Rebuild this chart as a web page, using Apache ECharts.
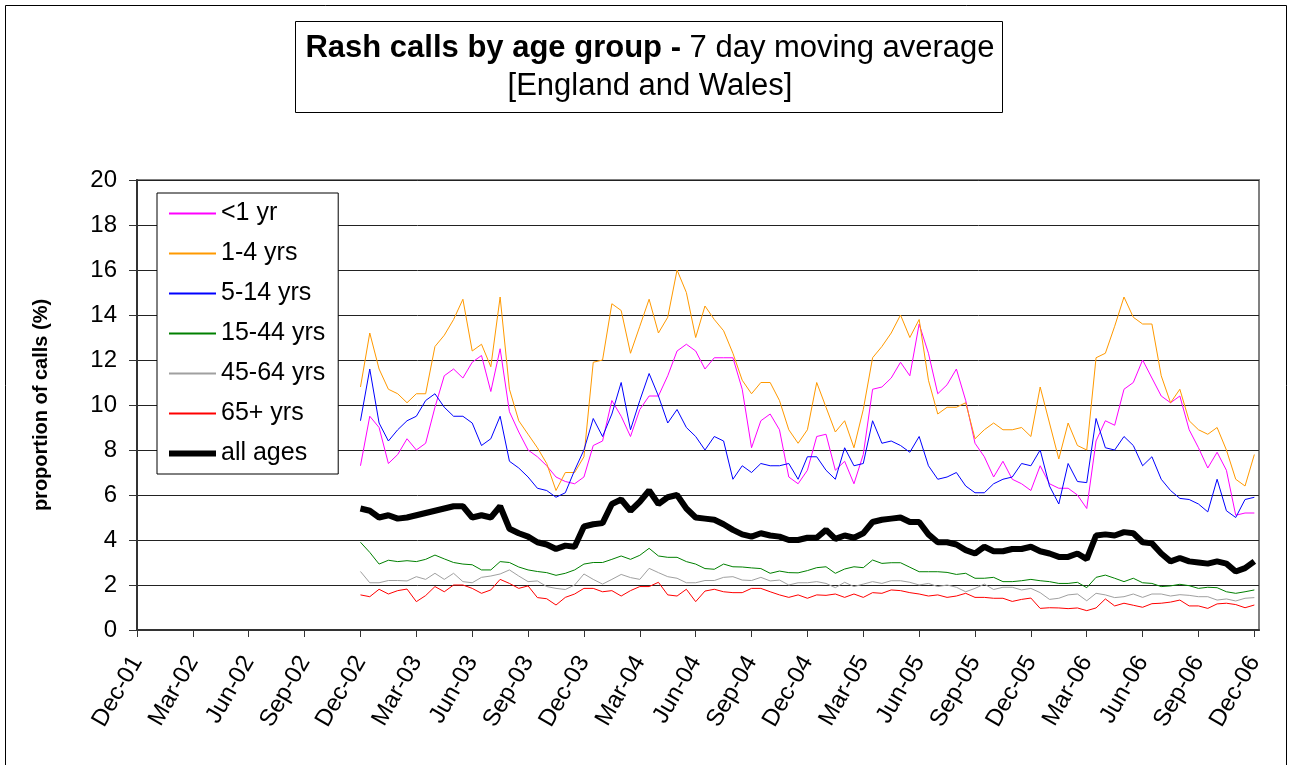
<!DOCTYPE html>
<html>
<head>
<meta charset="UTF-8">
<title>Rash calls by age group</title>
<script src="https://cdn.jsdelivr.net/npm/echarts@6/dist/echarts.min.js"></script>
<style>
    html, body { margin: 0; padding: 0; background: #fff; }
    #main { width: 1291px; height: 765px; }
</style>
</head>
<body>
<div id="main"></div>
<script>
    // x in months after Dec-01; one reading every half month from Dec-02 to Dec-06
    var xStart = 12, xStep = 0.5;
    var xTickLabels = ['Dec-01', 'Mar-02', 'Jun-02', 'Sep-02', 'Dec-02', 'Mar-03', 'Jun-03', 'Sep-03', 'Dec-03',
        'Mar-04', 'Jun-04', 'Sep-04', 'Dec-04', 'Mar-05', 'Jun-05', 'Sep-05', 'Dec-05', 'Mar-06', 'Jun-06',
        'Sep-06', 'Dec-06'];
    var yTicks = [0, 2, 4, 6, 8, 10, 12, 14, 16, 18, 20];

    // 7 day moving average, % of calls
    var under1 = [7.3, 9.5, 9.0, 7.4, 7.8, 8.5, 8.0, 8.3, 9.9, 11.3, 11.6, 11.2, 11.9, 12.2, 10.6, 12.5, 9.7, 8.8, 8.0, 7.7,
        7.3, 6.8, 6.6, 6.5, 6.8, 8.2,
        8.4, 10.2, 9.5, 8.6, 9.8, 10.4, 10.4, 11.3, 12.4, 12.7, 12.4, 11.6, 12.1, 12.1, 12.1, 10.7, 8.1, 9.3, 9.6, 8.9,
        6.8, 6.5, 7.1, 8.6, 8.7, 7.1,
        7.5, 6.5, 7.8, 10.7, 10.8, 11.2, 11.9, 11.3, 13.6, 12.3, 10.5, 10.9, 11.6, 10.2, 8.3, 7.7, 6.8, 7.5, 6.7, 6.5,
        6.2, 7.3, 6.5, 6.3, 6.3, 6.0,
        5.4, 8.4, 9.3, 9.1, 10.7, 11.0, 12.0, 11.2, 10.4, 10.1, 10.4, 8.9, 8.1, 7.2, 7.9, 7.1, 5.1, 5.2, 5.2];
    var age1to4 = [10.8, 13.2, 11.6, 10.7, 10.5, 10.1, 10.5, 10.5, 12.6, 13.1, 13.8, 14.7, 12.4, 12.7, 11.7, 14.8, 10.7, 9.3,
        8.7, 8.1, 7.4, 6.2, 7.0, 7.0, 7.7, 11.9,
        12.0, 14.5, 14.2, 12.3, 13.5, 14.7, 13.2, 13.9, 16.0, 15.0, 13.0, 14.4, 13.8, 13.3, 12.3, 11.1, 10.5, 11.0, 11.0,
        10.2, 8.9, 8.3, 8.9, 11.0, 9.9, 8.8,
        9.3, 8.1, 9.8, 12.1, 12.6, 13.2, 14.0, 13.0, 13.8, 11.1, 9.6, 9.9, 9.9, 10.1, 8.5, 8.9, 9.2, 8.9, 8.9, 9.0,
        8.6, 10.8, 9.2, 7.6, 9.2, 8.2,
        8.0, 12.1, 12.3, 13.5, 14.8, 13.9, 13.6, 13.6, 11.3, 10.1, 10.7, 9.3, 8.9, 8.7, 9.0, 8.0, 6.7, 6.4, 7.8];
    var age5to14 = [9.3, 11.6, 9.2, 8.4, 8.9, 9.3, 9.5, 10.2, 10.5, 9.9, 9.5, 9.5, 9.2, 8.2, 8.5, 9.5, 7.5, 7.2, 6.8, 6.3,
        6.2, 5.9, 6.1, 7.1, 8.0, 9.4,
        8.6, 9.6, 11.0, 8.9, 10.2, 11.4, 10.4, 9.2, 9.8, 9.0, 8.6, 8.0, 8.6, 8.4, 6.7, 7.3, 7.0, 7.4, 7.3, 7.3,
        7.4, 6.7, 7.7, 7.7, 7.1, 6.7,
        8.1, 7.3, 7.4, 9.3, 8.3, 8.4, 8.2, 7.9, 8.6, 7.3, 6.7, 6.8, 7.0, 6.4, 6.1, 6.1, 6.5, 6.7, 6.8, 7.4,
        7.3, 8.0, 6.4, 5.6, 7.4, 6.6,
        6.55, 9.4, 8.1, 8.0, 8.6, 8.2, 7.3, 7.7, 6.7, 6.2, 5.85, 5.8, 5.6, 5.25, 6.7, 5.3, 5.0, 5.8, 5.9];
    var age15to44 = [3.9, 3.45, 2.93, 3.1, 3.04, 3.08, 3.04, 3.14, 3.33, 3.16, 3.0, 2.93, 2.9, 2.67, 2.67, 3.04, 3.0, 2.8,
        2.67, 2.6, 2.55, 2.43, 2.52, 2.67, 2.93, 3.0, 3.0, 3.14, 3.29, 3.14, 3.32, 3.63, 3.29, 3.23, 3.23, 3.04, 2.93,
        2.73, 2.7, 2.93, 2.81, 2.8, 2.76, 2.73, 2.52, 2.62, 2.55, 2.54,
        2.64, 2.77, 2.81, 2.52, 2.71, 2.81, 2.77, 3.11, 2.96, 2.99, 2.99, 2.79, 2.59, 2.59, 2.59, 2.56, 2.47, 2.52,
        2.3, 2.3, 2.34, 2.15, 2.15, 2.19, 2.25, 2.19, 2.15, 2.07, 2.07, 2.12, 1.88, 2.34, 2.44, 2.3, 2.15, 2.3, 2.1,
        2.07, 1.93, 1.96, 2.03, 1.97, 1.85, 1.9, 1.88, 1.7, 1.63, 1.7, 1.78];
    var age45to64 = [2.6, 2.1, 2.1, 2.2, 2.2, 2.18, 2.37, 2.25, 2.52, 2.25, 2.52, 2.15, 2.1, 2.34, 2.4, 2.49, 2.67, 2.4,
        2.15, 2.18, 1.93, 1.85, 1.8, 2.0, 2.49, 2.25, 2.04, 2.25, 2.47, 2.33, 2.25, 2.74, 2.55, 2.37, 2.3, 2.1, 2.1,
        2.2, 2.2, 2.34, 2.37, 2.22, 2.2, 2.34, 2.18, 2.22, 2.0, 2.1,
        2.1, 2.15, 2.07, 1.88, 2.12, 1.93, 2.04, 2.15, 2.07, 2.19, 2.19, 2.12, 2.0, 2.07, 1.93, 2.0, 1.9, 1.7, 1.85,
        2.04, 1.8, 1.9, 1.9, 1.78, 1.85, 1.66, 1.36, 1.41, 1.56, 1.6, 1.3, 1.63, 1.56, 1.44, 1.48, 1.6, 1.45, 1.6,
        1.6, 1.51, 1.57, 1.54, 1.48, 1.48, 1.33, 1.38, 1.29, 1.41, 1.44];
    var age65plus = [1.56, 1.48, 1.81, 1.6, 1.75, 1.82, 1.26, 1.53, 1.93, 1.7, 2.0, 2.0, 1.85, 1.63, 1.78, 2.25, 2.07,
        1.85, 1.96, 1.44, 1.39, 1.11, 1.45, 1.6, 1.85, 1.85, 1.7, 1.75, 1.51, 1.75, 1.93, 1.93, 2.12, 1.56, 1.51, 1.81,
        1.26, 1.73, 1.81, 1.7, 1.66, 1.66, 1.85, 1.85, 1.7, 1.56, 1.45, 1.56,
        1.41, 1.56, 1.54, 1.6, 1.45, 1.6, 1.45, 1.66, 1.63, 1.78, 1.75, 1.66, 1.6, 1.51, 1.56, 1.45, 1.51, 1.63, 1.45,
        1.45, 1.41, 1.41, 1.27, 1.36, 1.42, 0.96, 0.99, 0.98, 0.95, 0.98, 0.86, 0.98, 1.38, 1.07, 1.19, 1.1, 1.01,
        1.17, 1.19, 1.24, 1.33, 1.07, 1.07, 0.96, 1.16, 1.19, 1.13, 0.99, 1.11];
    var allAges = [5.4, 5.3, 5.0, 5.1, 4.95, 5.0, 5.1, 5.2, 5.3, 5.4, 5.5, 5.5, 5.0, 5.1, 5.0, 5.5, 4.5, 4.3, 4.15, 3.9,
        3.8, 3.6, 3.75, 3.7, 4.6, 4.7,
        4.75, 5.6, 5.8, 5.3, 5.7, 6.2, 5.6, 5.9, 6.0, 5.4, 5.0, 4.95, 4.9, 4.7, 4.45, 4.25, 4.15, 4.3, 4.2, 4.15,
        4.0, 4.0, 4.1, 4.1, 4.45, 4.05,
        4.2, 4.1, 4.3, 4.8, 4.9, 4.95, 5.0, 4.8, 4.8, 4.25, 3.9, 3.9, 3.8, 3.55, 3.4, 3.7, 3.5, 3.5, 3.6, 3.6,
        3.7, 3.5, 3.4, 3.25, 3.25, 3.4,
        3.15, 4.2, 4.25, 4.2, 4.35, 4.3, 3.9, 3.85, 3.4, 3.05, 3.2, 3.05, 3.0, 2.95, 3.05, 2.95, 2.6, 2.75, 3.05];

    var FONT = "'Liberation Sans', Arial, sans-serif";

    function pairs(vals) {
        var out = [];
        for (var i = 0; i < vals.length; i++) {
            out.push([xStart + i * xStep, vals[i]]);
        }
        return out;
    }

    var tickMonths = xTickLabels.map(function (l, i) { return i * 3; });

    function lineSeries(name, vals, color, width) {
        return {
            name: name,
            type: 'line',
            data: pairs(vals),
            symbol: 'none',
            showSymbol: false,
            lineStyle: { color: color, width: width },
            itemStyle: { color: color },
            emphasis: { disabled: true }
        };
    }

    var myChart = echarts.init(document.getElementById('main'));

    var option = {
        animation: false,
        backgroundColor: '#ffffff',
        graphic: [
            { type: 'rect', shape: { x: 5.5, y: 5.5, width: 1281, height: 790 },
              style: { fill: 'none', stroke: '#000', lineWidth: 1 }, silent: true },
            { type: 'rect', shape: { x: 295.5, y: 21.5, width: 707, height: 91 },
              style: { fill: '#fff', stroke: '#000', lineWidth: 1 }, silent: true },
            { type: 'text', x: 650, y: 48,
              style: {
                  text: '{b|Rash calls by age group - }{n|7 day moving average}',
                  align: 'center', verticalAlign: 'middle',
                  rich: {
                      b: { fontFamily: FONT, fontSize: 31, fontWeight: 'bold', fill: '#000' },
                      n: { fontFamily: FONT, fontSize: 31, fill: '#000' }
                  }
              } },
            { type: 'text', x: 650, y: 86,
              style: { text: '[England and Wales]', fontFamily: FONT, fontSize: 31, fill: '#000',
                       align: 'center', verticalAlign: 'middle' } }
        ],
        legend: {
            orient: 'vertical',
            left: 157,
            top: 193,
            padding: [8, 13, 8, 9],
            itemWidth: 47,
            itemHeight: 24,
            itemGap: 15,
            borderColor: '#000',
            borderWidth: 1,
            backgroundColor: '#fff',
            itemStyle: { opacity: 0 },
            textStyle: { fontFamily: FONT, fontSize: 25, color: '#000', lineHeight: 24 },
            data: ['<1 yr', '1-4 yrs', '5-14 yrs', '15-44 yrs', '45-64 yrs', '65+ yrs',
                { name: 'all ages', lineStyle: { width: 6 } }]
        },
        grid: {
            left: 137,
            right: 32,
            top: 180,
            bottom: 135,
            show: true,
            borderColor: '#808080',
            borderWidth: 2,
            backgroundColor: '#fff'
        },
        xAxis: {
            type: 'value',
            min: 0,
            max: 60.25,
            splitLine: { show: false },
            axisLine: { onZero: false, lineStyle: { color: '#333', width: 2 } },
            axisTick: { customValues: tickMonths, length: 7, lineStyle: { color: '#333', width: 1 } },
            axisLabel: {
                customValues: tickMonths,
                rotate: 60,
                margin: 28,
                fontFamily: FONT,
                fontSize: 24,
                color: '#000',
                formatter: function (v) { return xTickLabels[Math.round(v / 3)]; }
            }
        },
        yAxis: {
            type: 'value',
            min: yTicks[0],
            max: yTicks[yTicks.length - 1],
            interval: 2,
            name: 'proportion of calls (%)',
            nameLocation: 'middle',
            nameGap: 86,
            nameTextStyle: { fontFamily: FONT, fontSize: 20, fontWeight: 'bold', color: '#000' },
            axisLine: { show: true, lineStyle: { color: '#333', width: 2 } },
            axisTick: { show: true, length: 8, lineStyle: { color: '#333', width: 1 } },
            axisLabel: { margin: 20, fontFamily: FONT, fontSize: 24, color: '#000' },
            splitLine: { show: true, lineStyle: { color: '#222', width: 1 } }
        },
        series: [
            lineSeries('<1 yr', under1, '#ff00ff', 1),
            lineSeries('1-4 yrs', age1to4, '#ff9900', 1),
            lineSeries('5-14 yrs', age5to14, '#0000ff', 1),
            lineSeries('15-44 yrs', age15to44, '#008000', 1),
            lineSeries('45-64 yrs', age45to64, '#a0a0a0', 1),
            lineSeries('65+ yrs', age65plus, '#ff0000', 1),
            lineSeries('all ages', allAges, '#000000', 6)
        ]
    };

    myChart.setOption(option);
</script>
</body>
</html>
